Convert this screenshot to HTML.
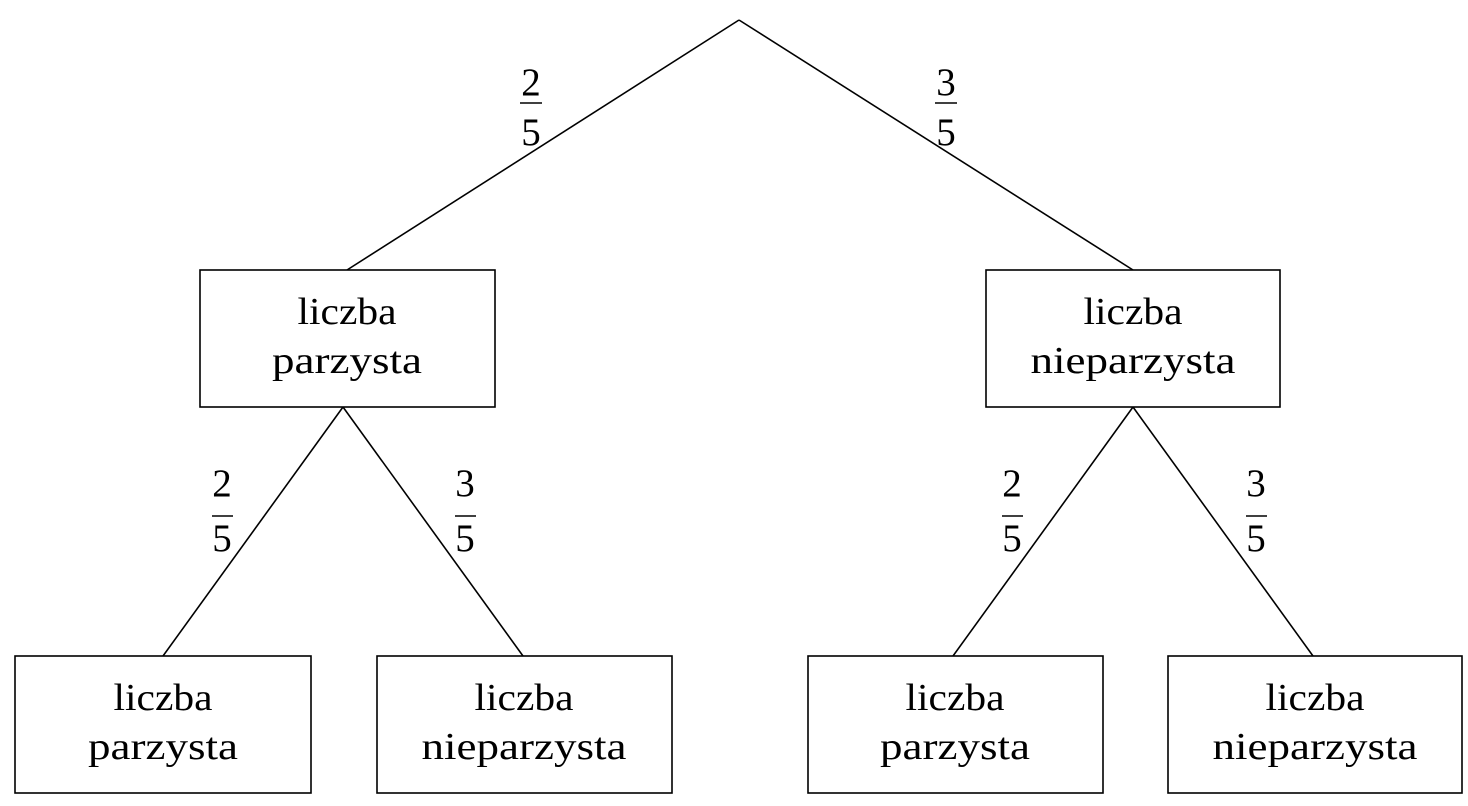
<!DOCTYPE html>
<html><head><meta charset="utf-8"><style>html,body{margin:0;padding:0;background:#fff}svg{display:block}</style></head>
<body>
<svg width="1468" height="806" viewBox="0 0 1468 806" xmlns="http://www.w3.org/2000/svg" font-family="Liberation Serif, serif" fill="#000">
<g stroke="#000" stroke-width="1.6" fill="none">
<line x1="739" y1="20" x2="347" y2="270"/>
<line x1="739" y1="20" x2="1133" y2="270"/>
<line x1="343" y1="407" x2="163" y2="656"/>
<line x1="343" y1="407" x2="523" y2="656"/>
<line x1="1133" y1="407" x2="953" y2="656"/>
<line x1="1133" y1="407" x2="1313" y2="656"/>
<rect x="200" y="270" width="295" height="137" fill="#fff"/>
<rect x="986" y="270" width="294" height="137" fill="#fff"/>
<rect x="15" y="656" width="296" height="137" fill="#fff"/>
<rect x="377" y="656" width="295" height="137" fill="#fff"/>
<rect x="808" y="656" width="295" height="137" fill="#fff"/>
<rect x="1168" y="656" width="294" height="137" fill="#fff"/>
<line x1="520" y1="103" x2="542" y2="103"/>
<line x1="935" y1="103" x2="957" y2="103"/>
<line x1="212" y1="516" x2="233" y2="516"/>
<line x1="455" y1="516" x2="476" y2="516"/>
<line x1="1002" y1="516" x2="1023" y2="516"/>
<line x1="1246" y1="516" x2="1267" y2="516"/>
</g>
<g font-size="38" text-anchor="middle">
<text x="347" y="324" textLength="99" lengthAdjust="spacingAndGlyphs">liczba</text>
<text x="347" y="373" textLength="150" lengthAdjust="spacingAndGlyphs">parzysta</text>
<text x="1133" y="324" textLength="99" lengthAdjust="spacingAndGlyphs">liczba</text>
<text x="1133" y="373" textLength="205" lengthAdjust="spacingAndGlyphs">nieparzysta</text>
<text x="163" y="710" textLength="99" lengthAdjust="spacingAndGlyphs">liczba</text>
<text x="163" y="759" textLength="150" lengthAdjust="spacingAndGlyphs">parzysta</text>
<text x="524" y="710" textLength="99" lengthAdjust="spacingAndGlyphs">liczba</text>
<text x="524" y="759" textLength="205" lengthAdjust="spacingAndGlyphs">nieparzysta</text>
<text x="955" y="710" textLength="99" lengthAdjust="spacingAndGlyphs">liczba</text>
<text x="955" y="759" textLength="150" lengthAdjust="spacingAndGlyphs">parzysta</text>
<text x="1315" y="710" textLength="99" lengthAdjust="spacingAndGlyphs">liczba</text>
<text x="1315" y="759" textLength="205" lengthAdjust="spacingAndGlyphs">nieparzysta</text>
</g>
<g font-size="39" text-anchor="middle">
<text x="531" y="95">2</text><text x="531" y="145">5</text>
<text x="946" y="95">3</text><text x="946" y="145">5</text>
<text x="222" y="496">2</text><text x="222" y="551">5</text>
<text x="465" y="496">3</text><text x="465" y="551">5</text>
<text x="1012" y="496">2</text><text x="1012" y="551">5</text>
<text x="1256" y="496">3</text><text x="1256" y="551">5</text>
</g>
</svg>
</body></html>
